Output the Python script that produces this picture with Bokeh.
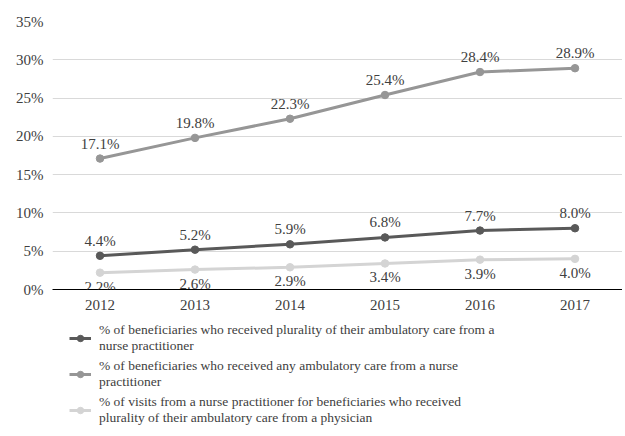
from bokeh.plotting import figure
from bokeh.models import (ColumnDataSource, FactorRange, Range1d, FixedTicker, PrintfTickFormatter,
                          Legend, LegendItem, LabelSet)
from bokeh.layouts import column
from bokeh.embed import file_html
from bokeh.resources import INLINE
from bokeh.core.properties import value

years = ["2012", "2013", "2014", "2015", "2016", "2017"]
plurality_np = [4.4, 5.2, 5.9, 6.8, 7.7, 8.0]
any_np = [17.1, 19.8, 22.3, 25.4, 28.4, 28.9]
visits_np = [2.2, 2.6, 2.9, 3.4, 3.9, 4.0]
y_ticks = [0, 5, 10, 15, 20, 25, 30, 35]
names = [
    "% of beneficiaries who received plurality of their ambulatory care from a\nnurse practitioner",
    "% of beneficiaries who received any ambulatory care from a nurse\npractitioner",
    "% of visits from a nurse practitioner for beneficiaries who received\nplurality of their ambulatory care from a physician",
]
colors = ["#595959", "#969696", "#d4d4d4"]

FONT = "Liberation Serif"
TXT = "#404040"

p = figure(width=622, height=318, x_range=FactorRange(factors=years), y_range=Range1d(0, 35),
           output_backend="svg", toolbar_location=None,
           min_border_left=52, min_border_right=0, min_border_top=21, min_border_bottom=29)
p.outline_line_color = None
p.xgrid.grid_line_color = None
p.ygrid.grid_line_color = "#d9d9d9"
p.ygrid.grid_line_width = 1
p.yaxis.ticker = FixedTicker(ticks=y_ticks)
p.yaxis.formatter = PrintfTickFormatter(format="%d%%")
p.yaxis.axis_line_color = None
p.yaxis.major_tick_line_color = None
p.yaxis.minor_tick_line_color = None
p.yaxis.major_tick_out = 0
p.yaxis.major_label_standoff = 9
p.xaxis.axis_line_color = "#000000"
p.xaxis.axis_line_width = 1
p.xaxis.major_tick_line_color = None
p.xaxis.minor_tick_line_color = None
p.xaxis.major_tick_out = 0
p.xaxis.major_label_standoff = 10
for ax in (p.xaxis[0], p.yaxis[0]):
    ax.major_label_text_font = FONT
    ax.major_label_text_font_size = "15px"
    ax.major_label_text_color = TXT

series = [plurality_np, any_np, visits_np]
sources = {}
for idx in [2, 1, 0]:
    vals = series[idx]
    src = ColumnDataSource(dict(x=years, y=vals, lab=[f"{v:.1f}%" for v in vals]))
    sources[idx] = src
    p.line("x", "y", source=src, line_color=colors[idx], line_width=3)
    p.scatter("x", "y", source=src, size=7.5, fill_color=colors[idx], line_color=colors[idx])
    below = idx == 2
    labels = LabelSet(x="x", y="y", text="lab", source=src,
                      text_font=value(FONT), text_font_size="15px", text_color=TXT,
                      text_align="center",
                      text_baseline="top" if below else "bottom",
                      y_offset=-6 if below else 7)
    p.add_layout(labels)

# legend panel: same series drawn in a strip whose y range lies far above the data,
# so only the legend entries are visible
lg = figure(width=622, height=116, output_backend="svg", toolbar_location=None,
            x_range=FactorRange(factors=years), y_range=Range1d(1000, 1001),
            x_axis_location=None, y_axis_location=None,
            min_border_left=0, min_border_right=0, min_border_top=0, min_border_bottom=0)
lg.grid.visible = False
lg.outline_line_color = None
items = []
for idx in range(3):
    ln = lg.line("x", "y", source=sources[idx], line_color=colors[idx], line_width=3)
    sc = lg.scatter("x", "y", source=sources[idx], size=7.5, fill_color=colors[idx], line_color=colors[idx])
    items.append(LegendItem(label=names[idx], renderers=[ln, sc]))
legend = Legend(items=items, location=(17, 8),
                label_text_font=FONT, label_text_font_size="13.5px", label_text_color=TXT,
                glyph_width=22, glyph_height=16, label_standoff=8, spacing=4,
                padding=0, margin=0, border_line_color=None, background_fill_alpha=0,
                label_text_line_height=1.2)
lg.add_layout(legend, "center")

open("out.html", "w").write(file_html(column(p, lg), INLINE))
